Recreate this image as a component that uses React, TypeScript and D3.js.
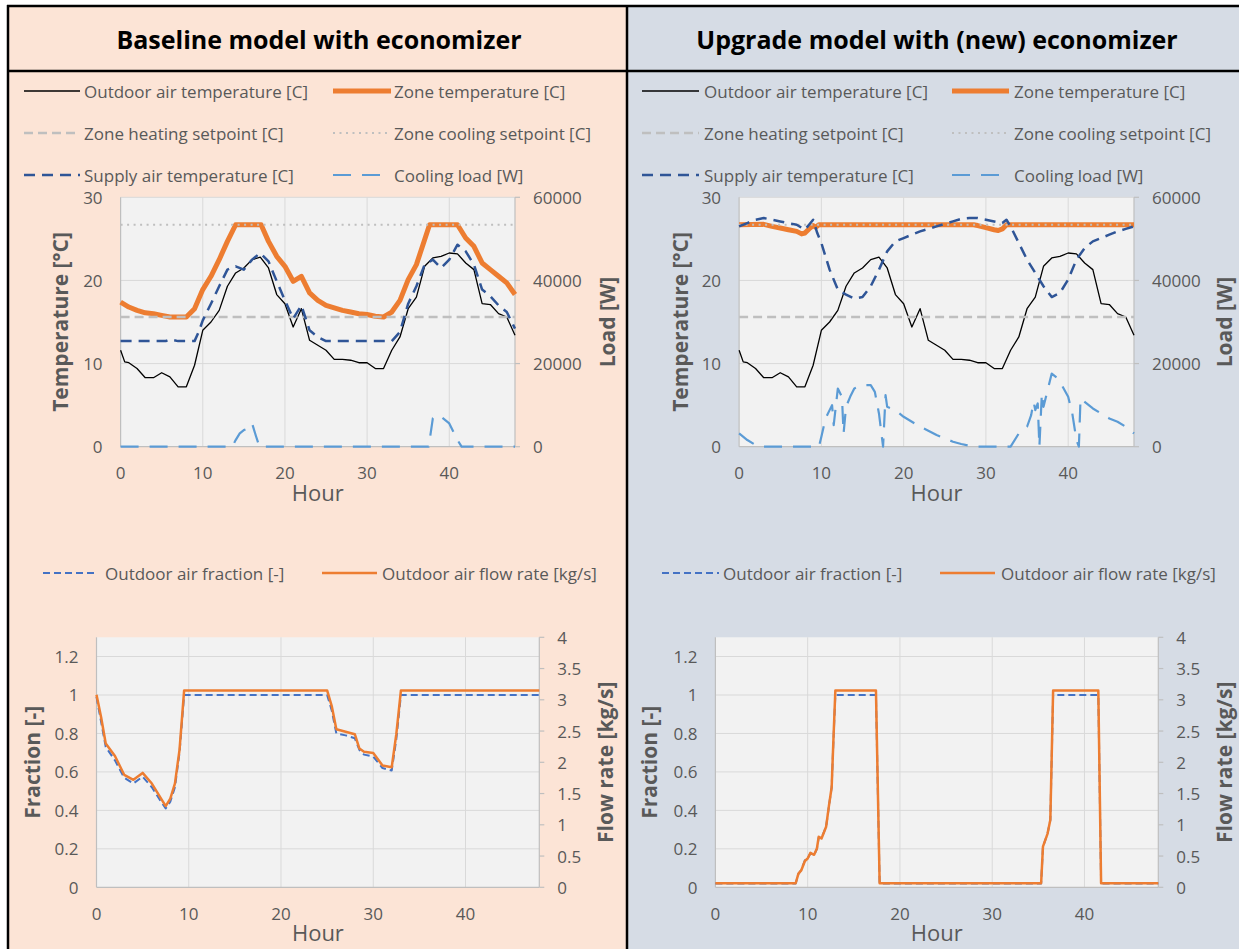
import React from 'react';
import * as d3 from 'd3';

type Pt = [number, number];

// ---------- Shared setpoints ----------
const heatingSetpoint = 15.6; // °C
const coolingSetpoint = 26.7; // °C

// ---------- Outdoor air temperature [°C] (same weather for both models) ----------
const outdoorTemp: Pt[] = [
  [0, 11.6], [0.5, 10.2], [1, 10.1], [2, 9.4], [3, 8.3], [4, 8.3], [5, 8.9], [6, 8.4],
  [7, 7.2], [8, 7.2], [9, 9.8], [10, 14.0], [11, 15.0], [12, 16.4], [13, 19.3], [14, 20.9],
  [15, 21.5], [16, 22.5], [17, 22.8], [18, 21.5], [19, 18.3], [20, 17.2], [21, 14.4], [22, 16.6],
  [23, 12.8], [24, 12.2], [25, 11.6], [26, 10.5], [27, 10.5], [28, 10.4], [29, 10.1], [30, 10.1],
  [31, 9.4], [32, 9.4], [33, 11.6], [34, 13.2], [35, 16.6], [36, 18.0], [37, 21.7], [38, 22.7],
  [39, 22.9], [40, 23.3], [41, 23.2], [42, 22.1], [43, 21.3], [44, 17.2], [45, 17.1], [46, 16.0],
  [47, 15.6], [48, 13.4],
];

// ---------- Baseline model ----------
const baseZoneTemp: Pt[] = [
  [0, 17.4], [1, 16.8], [2, 16.4], [3, 16.1], [4, 16.0], [5, 15.8], [6, 15.6], [8, 15.6],
  [9, 16.6], [10, 18.9], [11, 20.5], [12, 22.5], [13, 24.7], [14, 26.7], [17.1, 26.7], [18, 24.7],
  [19, 22.9], [20, 21.7], [21, 19.9], [22, 20.5], [23, 18.5], [24, 17.6], [25, 17.0], [26, 16.7],
  [27, 16.4], [28, 16.2], [29, 16.0], [30, 15.9], [31, 15.7], [32, 15.6], [33, 16.2], [34, 17.6],
  [35, 20.1], [36, 21.9], [37, 24.9], [37.6, 26.7], [41, 26.7], [42, 25.1], [43, 24.1], [44, 22.1],
  [45, 21.3], [46, 20.5], [47, 19.7], [48, 18.3],
];

const baseSupplyTemp: Pt[] = [
  [0, 12.7], [5.5, 12.7], [6, 12.9], [7, 12.7], [9, 12.7], [9.5, 13.8], [10, 15.2], [11, 17.2],
  [12, 19.3], [13, 21.3], [14, 21.7], [15, 21.3], [16, 22.5], [17, 23.3], [18, 22.3], [19, 19.9],
  [20, 17.6], [21, 15.4], [22, 17.0], [23, 14.0], [24, 13.2], [25, 12.7], [33, 12.7], [34, 13.8],
  [35, 17.2], [36, 19.3], [37, 21.9], [38, 22.5], [39, 21.5], [40, 22.5], [41, 24.3], [42, 23.5],
  [43, 21.9], [44, 18.9], [45, 18.1], [46, 17.0], [47, 16.2], [48, 14.2],
];

const baseCoolingLoad: Pt[] = [
  [0, 0], [13.6, 0], [14, 1600], [14.5, 3200], [15, 4000], [15.5, 4400], [16, 5600], [16.5, 2400],
  [16.9, 0], [37.5, 0], [38, 6800], [38.5, 7600], [39, 7200], [40, 5600], [41, 1600], [41.5, 0],
  [48, 0],
];

const baseOAFraction: Pt[] = [
  [0, 0.99], [0.5, 0.86], [1, 0.73], [2, 0.66], [3, 0.57], [4, 0.54], [5, 0.575], [6, 0.52],
  [7, 0.445], [7.5, 0.41], [8, 0.445], [8.5, 0.52], [9, 0.7], [9.5, 1.0], [25, 1.0], [25.5, 0.92],
  [26, 0.8], [27, 0.79], [28, 0.775], [28.5, 0.714], [29, 0.69], [30, 0.68], [31, 0.62], [32, 0.607],
  [32.5, 0.77], [33, 1.0], [48, 1.0],
];

const baseOAFlow: Pt[] = [
  [0, 3.08], [0.5, 2.72], [1, 2.3], [2, 2.1], [3, 1.8], [4, 1.72], [5, 1.83], [6, 1.66],
  [7, 1.42], [7.5, 1.3], [8, 1.42], [8.5, 1.66], [9, 2.2], [9.5, 3.15], [25, 3.15], [25.5, 2.9],
  [26, 2.53], [27, 2.49], [28, 2.45], [28.5, 2.22], [29, 2.17], [30, 2.15], [31, 1.95], [32, 1.92],
  [32.5, 2.45], [33, 3.15], [48, 3.15],
];

// ---------- Upgrade model ----------
const upZoneTemp: Pt[] = [
  [0, 26.7], [3, 26.75], [4, 26.5], [5, 26.3], [6, 26.1], [7, 25.9], [7.6, 25.6], [8, 25.7],
  [8.5, 26.2], [9, 26.6], [9.3, 26.4], [9.7, 26.7], [28.5, 26.7], [29, 26.6], [30, 26.35],
  [31, 26.1], [31.5, 26.0], [32, 26.2], [32.5, 26.7], [48, 26.7],
];

const upSupplyTemp: Pt[] = [
  [0, 26.5], [1, 26.9], [2, 27.3], [3, 27.5], [4, 27.3], [5, 27.1], [6, 26.9], [7, 26.7],
  [8, 26.1], [8.5, 26.7], [9, 27.3], [9.5, 25.7], [10, 24.5], [11, 21.3], [12, 18.9], [13, 18.3],
  [14, 17.8], [15, 18.0], [16, 19.3], [17, 21.3], [18, 23.5], [19, 24.7], [20, 25.1], [21, 25.5],
  [22, 25.9], [23, 26.2], [24, 26.5], [25, 26.8], [26, 27.1], [27, 27.4], [28, 27.5], [29, 27.5],
  [30, 27.3], [31, 27.1], [32, 26.9], [32.5, 27.3], [33, 26.5], [34, 24.5], [35, 22.5], [36, 20.9],
  [37, 19.3], [38, 18.0], [39, 18.5], [40, 20.1], [41, 22.5], [42, 23.9], [43, 24.7], [44, 25.1],
  [45, 25.5], [46, 25.9], [47, 26.2], [48, 26.5],
];

const upCoolingLoad: Pt[] = [
  [0, 3200], [1, 1600], [2, 400], [2.5, 0], [9.7, 0], [10, 2400], [10.5, 6800], [11, 8800],
  [11.3, 10000], [11.5, 5200], [12, 14000], [12.5, 12000], [12.7, 3200], [13, 9600], [13.5, 12000],
  [14, 14000], [15, 14800], [16, 14800], [16.5, 13200], [17, 8000], [17.3, 3200], [17.5, 0],
  [17.8, 12400], [18, 9600], [19, 8800], [20, 7200], [21, 6000], [22, 4800], [23, 3850], [24, 2800],
  [25, 2000], [26, 1200], [27, 640], [28, 240], [29, 0], [33, 0], [34, 3200], [35, 4800],
  [35.5, 7600], [35.8, 10800], [36, 8800], [36.3, 10400], [36.5, 0], [36.8, 12800], [37, 9600],
  [37.5, 13600], [38, 17600], [38.5, 16800], [39, 15600], [40, 12000], [40.5, 8000], [41, 1600],
  [41.3, 0], [41.5, 11600], [42, 10800], [43, 9200], [44, 8000], [45, 6800], [46, 6000],
  [47, 4800], [48, 3200],
];

const upOAFraction: Pt[] = [
  [0, 0.02], [8.7, 0.02], [9, 0.07], [9.3, 0.09], [9.7, 0.14], [10, 0.15], [10.3, 0.177],
  [10.7, 0.168], [11, 0.2], [11.2, 0.26], [11.5, 0.255], [12, 0.315], [12.3, 0.42], [12.6, 0.52],
  [12.8, 0.77], [13, 1.0], [17.4, 1.0], [17.8, 0.02], [35.3, 0.02], [35.5, 0.21], [36, 0.28],
  [36.3, 0.35], [36.6, 1.0], [41.5, 1.0], [41.8, 0.02], [48, 0.02],
];

const upOAFlow: Pt[] = [
  [0, 0.065], [8.7, 0.065], [9, 0.22], [9.3, 0.27], [9.7, 0.42], [10, 0.46], [10.3, 0.55],
  [10.7, 0.52], [11, 0.62], [11.2, 0.81], [11.5, 0.78], [12, 0.97], [12.3, 1.3], [12.6, 1.6],
  [12.8, 2.4], [13, 3.15], [17.4, 3.15], [17.8, 0.065], [35.3, 0.065], [35.5, 0.65], [36, 0.86],
  [36.3, 1.08], [36.6, 3.15], [41.5, 3.15], [41.8, 0.065], [48, 0.065],
];

// ---------- Axis ticks ----------
const hourTicks = [0, 10, 20, 30, 40];
const tempTicks = [0, 10, 20, 30];
const loadTicks = [0, 20000, 40000, 60000];
const fractionTicks = [0, 0.2, 0.4, 0.6, 0.8, 1, 1.2];
const fractionLabels = ['0', '0.2', '0.4', '0.6', '0.8', '1', '1.2'];
const flowTicks = [0, 0.5, 1, 1.5, 2, 2.5, 3, 3.5, 4];
const flowLabels = ['0', '0.5', '1', '1.5', '2', '2.5', '3', '3.5', '4'];

// ---------- Styling ----------
const FONT = "'Open Sans', 'Noto Sans', sans-serif";
const TXT = '#595959';
const GRID = '#d9d9d9';
const AXIS = '#bfbfbf';
const PLOT_BG = '#f2f2f2';

interface LineStyle {
  color: string;
  width: number;
  dash?: string;
}

const S_OUTDOOR: LineStyle = { color: '#000000', width: 1.3 };
const S_ZONE: LineStyle = { color: '#ed7d31', width: 5 };
const S_HEAT: LineStyle = { color: '#bfbfbf', width: 2.5, dash: '9 5' };
const S_COOL: LineStyle = { color: '#bfbfbf', width: 2, dash: '2 4.5' };
const S_SUPPLY: LineStyle = { color: '#2f5597', width: 2.5, dash: '11 7' };
const S_LOAD: LineStyle = { color: '#5b9bd5', width: 2.2, dash: '18 11' };
const S_FRAC: LineStyle = { color: '#4472c4', width: 2, dash: '7 4' };
const S_FLOW: LineStyle = { color: '#ed7d31', width: 2.5 };

interface Box { x0: number; x1: number; y0: number; y1: number; }

interface SeriesDef { data: Pt[]; side: 'left' | 'right'; style: LineStyle; }

interface PlotProps {
  box: Box;
  leftDomain: [number, number];
  leftTicks: number[];
  leftLabels: string[];
  rightDomain: [number, number];
  rightTicks: number[];
  rightLabels: string[];
  leftTitle: string;
  rightTitle: string;
  leftTitleX: number;
  rightTitleX: number;
  series: SeriesDef[];
}

function Plot(p: PlotProps) {
  const { box } = p;
  const x = d3.scaleLinear().domain([0, 48]).range([box.x0, box.x1]);
  const yL = d3.scaleLinear().domain(p.leftDomain).range([box.y1, box.y0]);
  const yR = d3.scaleLinear().domain(p.rightDomain).range([box.y1, box.y0]);
  const cy = (box.y0 + box.y1) / 2;

  return (
    <g>
      <rect x={box.x0} y={box.y0} width={box.x1 - box.x0} height={box.y1 - box.y0} fill={PLOT_BG} />
      {/* gridlines */}
      {hourTicks.filter((h) => h > 0).map((h) => (
        <line key={'vx' + h} x1={x(h)} x2={x(h)} y1={box.y0} y2={box.y1} stroke={GRID} strokeWidth={1} />
      ))}
      {p.leftTicks.filter((v) => v > 0).map((v) => (
        <line key={'hy' + v} x1={box.x0} x2={box.x1} y1={yL(v)} y2={yL(v)} stroke={GRID} strokeWidth={1} />
      ))}
      {/* axis lines */}
      <line x1={box.x0} x2={box.x1} y1={box.y1} y2={box.y1} stroke={AXIS} strokeWidth={1.2} />
      <line x1={box.x0} x2={box.x0} y1={box.y0} y2={box.y1} stroke={AXIS} strokeWidth={1.2} />
      <line x1={box.x1} x2={box.x1} y1={box.y0} y2={box.y1} stroke={AXIS} strokeWidth={1.2} />
      {p.rightTicks.map((v) => (
        <line key={'rt' + v} x1={box.x1} x2={box.x1 + 5} y1={yR(v)} y2={yR(v)} stroke={AXIS} strokeWidth={1.2} />
      ))}
      {/* series */}
      {p.series.map((s, i) => {
        const y = s.side === 'left' ? yL : yR;
        const gen = d3.line<Pt>().x((d) => x(d[0])).y((d) => y(d[1]));
        return (
          <path
            key={i}
            d={gen(s.data) || ''}
            fill="none"
            stroke={s.style.color}
            strokeWidth={s.style.width}
            strokeDasharray={s.style.dash}
            strokeLinejoin="round"
          />
        );
      })}
      {/* tick labels */}
      {hourTicks.map((h) => (
        <text key={'xl' + h} x={x(h)} y={box.y1 + 26} textAnchor="middle" dominantBaseline="central"
          fontFamily={FONT} fontSize={17} fill={TXT}>{h}</text>
      ))}
      {p.leftTicks.map((v, i) => (
        <text key={'yl' + v} x={box.x0 - 18} y={yL(v)} textAnchor="end" dominantBaseline="central"
          fontFamily={FONT} fontSize={17} fill={TXT}>{p.leftLabels[i]}</text>
      ))}
      {p.rightTicks.map((v, i) => (
        <text key={'yr' + v} x={box.x1 + 18} y={yR(v)} textAnchor="start" dominantBaseline="central"
          fontFamily={FONT} fontSize={17} fill={TXT}>{p.rightLabels[i]}</text>
      ))}
      {/* axis titles */}
      <text x={(box.x0 + box.x1) / 2} y={box.y1 + 45} textAnchor="middle" dominantBaseline="central"
        fontFamily={FONT} fontSize={22} fill={TXT}>Hour</text>
      <text transform={`translate(${p.leftTitleX},${cy}) rotate(-90)`} textAnchor="middle" dominantBaseline="central"
        fontFamily={FONT} fontSize={21} fontWeight={700} fill={TXT}>{p.leftTitle}</text>
      <text transform={`translate(${p.rightTitleX},${cy}) rotate(-90)`} textAnchor="middle" dominantBaseline="central"
        fontFamily={FONT} fontSize={21} fontWeight={700} fill={TXT}>{p.rightTitle}</text>
    </g>
  );
}

interface LegendItem { label: string; style: LineStyle; lx0: number; lx1: number; tx: number; y: number; }

function Legend({ items }: { items: LegendItem[] }) {
  return (
    <g>
      {items.map((it, i) => (
        <g key={i}>
          <line x1={it.lx0} x2={it.lx1} y1={it.y} y2={it.y} stroke={it.style.color}
            strokeWidth={it.style.width} strokeDasharray={it.style.dash} />
          <text x={it.tx} y={it.y} dominantBaseline="central" fontFamily={FONT} fontSize={17} fill={TXT}>
            {it.label}
          </text>
        </g>
      ))}
    </g>
  );
}

function tempLegend(c1: [number, number, number], c2: [number, number, number]): LegendItem[] {
  const rows = [91, 133, 175];
  return [
    { label: 'Outdoor air temperature [C]', style: S_OUTDOOR, lx0: c1[0], lx1: c1[1], tx: c1[2], y: rows[0] },
    { label: 'Zone temperature [C]', style: S_ZONE, lx0: c2[0], lx1: c2[1], tx: c2[2], y: rows[0] },
    { label: 'Zone heating setpoint [C]', style: S_HEAT, lx0: c1[0], lx1: c1[1], tx: c1[2], y: rows[1] },
    { label: 'Zone cooling setpoint [C]', style: S_COOL, lx0: c2[0], lx1: c2[1], tx: c2[2], y: rows[1] },
    { label: 'Supply air temperature [C]', style: S_SUPPLY, lx0: c1[0], lx1: c1[1], tx: c1[2], y: rows[2] },
    { label: 'Cooling load [W]', style: S_LOAD, lx0: c2[0], lx1: c2[1], tx: c2[2], y: rows[2] },
  ];
}

function airLegend(c1: [number, number, number], c2: [number, number, number]): LegendItem[] {
  const y = 573;
  return [
    { label: 'Outdoor air fraction [-]', style: S_FRAC, lx0: c1[0], lx1: c1[1], tx: c1[2], y },
    { label: 'Outdoor air flow rate [kg/s]', style: S_FLOW, lx0: c2[0], lx1: c2[1], tx: c2[2], y },
  ];
}

function tempSeries(zone: Pt[], supply: Pt[], load: Pt[]): SeriesDef[] {
  return [
    { data: outdoorTemp, side: 'left', style: S_OUTDOOR },
    { data: zone, side: 'left', style: S_ZONE },
    { data: [[0, heatingSetpoint], [48, heatingSetpoint]], side: 'left', style: S_HEAT },
    { data: [[0, coolingSetpoint], [48, coolingSetpoint]], side: 'left', style: S_COOL },
    { data: supply, side: 'left', style: S_SUPPLY },
    { data: load, side: 'right', style: S_LOAD },
  ];
}

export default function App() {
  const W = 1239;
  const H = 949;
  const DIV = 627;
  const tempCommon = {
    leftDomain: [0, 30] as [number, number],
    leftTicks: tempTicks,
    leftLabels: tempTicks.map(String),
    rightDomain: [0, 60000] as [number, number],
    rightTicks: loadTicks,
    rightLabels: loadTicks.map(String),
    leftTitle: 'Temperature [°C]',
    rightTitle: 'Load [W]',
  };
  const airCommon = {
    leftDomain: [0, 1.3] as [number, number],
    leftTicks: fractionTicks,
    leftLabels: fractionLabels,
    rightDomain: [0, 4] as [number, number],
    rightTicks: flowTicks,
    rightLabels: flowLabels,
    leftTitle: 'Fraction [-]',
    rightTitle: 'Flow rate [kg/s]',
  };

  return (
    <svg width={W} height={H} viewBox={`0 0 ${W} ${H}`}
      style={{ position: 'absolute', left: 0, top: 0, display: 'block' }}>
      <rect x={0} y={0} width={W} height={H} fill="#ffffff" />
      <rect x={8} y={6} width={DIV - 8} height={H - 6} fill="#fce4d6" />
      <rect x={DIV} y={6} width={W - DIV} height={H - 6} fill="#d6dce5" />

      {/* panel titles */}
      <text x={319} y={39} textAnchor="middle" dominantBaseline="central" fontFamily={FONT}
        fontSize={25} fontWeight={700} fill="#000">Baseline model with economizer</text>
      <text x={937} y={39} textAnchor="middle" dominantBaseline="central" fontFamily={FONT}
        fontSize={25} fontWeight={700} fill="#000">Upgrade model with (new) economizer</text>

      {/* baseline: temperatures & load */}
      <Legend items={tempLegend([24, 80, 84], [333, 391, 394])} />
      <Plot box={{ x0: 120.6, x1: 515, y0: 197.3, y1: 446.7 }} {...tempCommon}
        leftTitleX={60} rightTitleX={607}
        series={tempSeries(baseZoneTemp, baseSupplyTemp, baseCoolingLoad)} />

      {/* upgrade: temperatures & load */}
      <Legend items={tempLegend([642, 699, 704], [952, 1009, 1014])} />
      <Plot box={{ x0: 739.1, x1: 1134, y0: 197.3, y1: 446.7 }} {...tempCommon}
        leftTitleX={680} rightTitleX={1224}
        series={tempSeries(upZoneTemp, upSupplyTemp, upCoolingLoad)} />

      {/* baseline: outdoor air */}
      <Legend items={airLegend([43, 98, 105], [322, 377, 382])} />
      <Plot box={{ x0: 96.5, x1: 539.3, y0: 637.3, y1: 887.3 }} {...airCommon}
        leftTitleX={32} rightTitleX={605}
        series={[
          { data: baseOAFraction, side: 'left', style: S_FRAC },
          { data: baseOAFlow, side: 'right', style: S_FLOW },
        ]} />

      {/* upgrade: outdoor air */}
      <Legend items={airLegend([662, 719, 723], [940, 995, 1001])} />
      <Plot box={{ x0: 715.4, x1: 1158.3, y0: 637.3, y1: 887.3 }} {...airCommon}
        leftTitleX={649} rightTitleX={1224}
        series={[
          { data: upOAFraction, side: 'left', style: S_FRAC },
          { data: upOAFlow, side: 'right', style: S_FLOW },
        ]} />

      {/* frame */}
      <g stroke="#000" strokeWidth={2.5}>
        <line x1={7} x2={W} y1={6} y2={6} />
        <line x1={7} x2={W} y1={71} y2={71} />
        <line x1={8} x2={8} y1={5} y2={H} />
        <line x1={DIV} x2={DIV} y1={5} y2={H} />
      </g>
    </svg>
  );
}
